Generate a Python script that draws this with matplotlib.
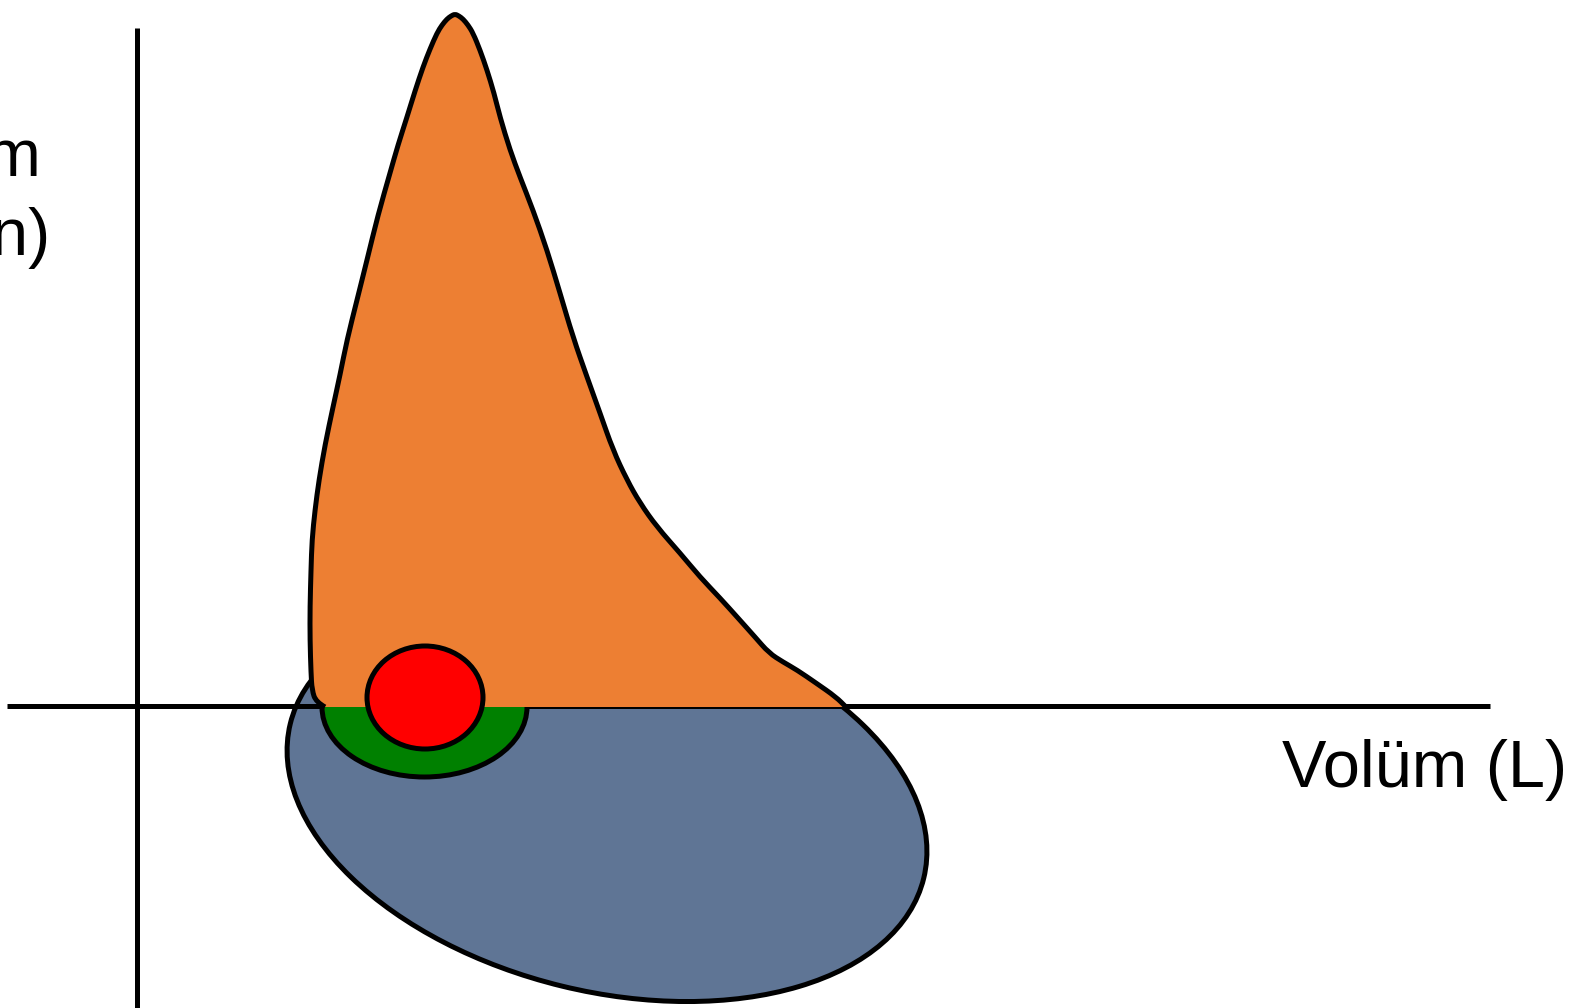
import matplotlib
matplotlib.use("Agg")
from matplotlib import pyplot as plt
from matplotlib import patches as pts
from matplotlib.path import Path

plt.rcParams['font.family'] = ['Liberation Sans', 'DejaVu Sans']

# figure is drawn in pixel space of the reference (x right, y down)
W, H = 1589, 1008

# expiratory limb (orange), outline, left foot -> peak -> right foot
exp_x = [325, 316, 312, 311, 310, 310, 311, 312, 315, 319, 325, 333, 340, 347, 357, 367,
         378, 390, 398, 407, 415, 423, 430, 437, 442, 447, 451, 455, 459, 463, 468, 473,
         480, 487, 494, 500, 510, 520, 533, 547, 560, 573, 587, 600, 613, 627, 640, 657,
         680, 700, 720, 738, 755, 769, 783, 797, 816, 836, 846]
exp_y = [707, 702, 690, 673, 640, 607, 570, 540, 510, 480, 445, 407, 375, 340, 300, 260,
         215, 173, 145, 117, 91, 67, 49, 33, 25, 19, 16, 14, 16, 19, 25, 33,
         50, 70, 93, 117, 150, 177, 210, 250, 293, 337, 377, 413, 450, 480, 503, 527,
         553, 577, 598, 618, 637, 653, 662, 670, 683, 697, 707]
baseline_y = 707

# inspiratory limb (blue ellipse): centre, width, height, tilt
insp_c = (607, 801)
insp_w, insp_h, insp_ang = 652, 381, 13.7

# green half-loop and red tidal loop
green_c = (424.5, 707)
green_w, green_h = 205, 140
red_c = (425, 697.5)
red_w, red_h = 116, 103

# axes lines
xaxis_y, xaxis_x = 705.5, (7, 1490)
yaxis_x, yaxis_y = 137, (28, 1008)


def smooth_path(xs, ys, close_y=None):
    # quadratic curves between midpoints, read points act as control points
    verts = [(xs[0], ys[0])]
    codes = [Path.MOVETO]
    for i in range(1, len(xs)-1):
        mx = (xs[i]+xs[i+1])/2
        my = (ys[i]+ys[i+1])/2
        verts += [(xs[i], ys[i]), (mx, my)]
        codes += [Path.CURVE3, Path.CURVE3]
    verts.append((xs[-1], ys[-1]))
    codes.append(Path.LINETO)
    if close_y is not None:
        verts += [(xs[0], close_y), (xs[0], close_y)]
        codes += [Path.LINETO, Path.CLOSEPOLY]
    return Path(verts, codes)


fig = plt.figure(figsize=(W/100, H/100), dpi=100)
ax = fig.add_axes([0, 0, 1, 1])
ax.set_xlim(0, W)
ax.set_ylim(H, 0)
ax.axis('off')

lw = 3.6
ax.add_patch(pts.Ellipse(insp_c, insp_w, insp_h, angle=insp_ang,
                         facecolor='#5f7595', edgecolor='black', lw=lw, zorder=1))
ax.plot(xaxis_x, [xaxis_y, xaxis_y], color='black', lw=lw, zorder=2, solid_capstyle='butt')
ax.plot([yaxis_x, yaxis_x], yaxis_y, color='black', lw=lw, zorder=2, solid_capstyle='butt')
ax.add_patch(pts.Ellipse(green_c, green_w, green_h,
                         facecolor='#008000', edgecolor='black', lw=lw, zorder=3))

ax.add_patch(pts.PathPatch(smooth_path(exp_x, exp_y, baseline_y),
                           facecolor='#ed7f33', lw=0, zorder=4))
ax.add_patch(pts.PathPatch(smooth_path(exp_x, exp_y), fill=False,
                           edgecolor='black', lw=lw, zorder=5, joinstyle='round'))

ax.add_patch(pts.Ellipse(red_c, red_w, red_h,
                         facecolor='#ff0000', edgecolor='black', lw=lw, zorder=6))

ax.text(1282, 787, 'Volüm (L)', fontsize=48, ha='left', va='baseline')
ax.text(-34, 176, 'Akım', fontsize=48, ha='center', va='baseline')
ax.text(-34, 255, '(L/sn)', fontsize=48, ha='center', va='baseline')

fig.savefig('out.png', dpi=100)
